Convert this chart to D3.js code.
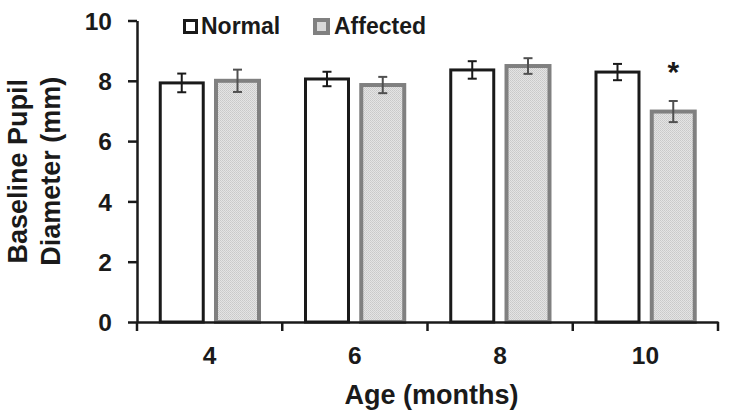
<!DOCTYPE html>
<html><head><meta charset="utf-8">
<script src="https://cdn.jsdelivr.net/npm/d3@7"></script>
<style>
html,body{margin:0;padding:0;background:#fff;}
svg text{font-family:Arial,"Liberation Sans",sans-serif;font-weight:bold;fill:#1a1a1a;}
</style></head>
<body><svg id="c" width="729" height="420"></svg>
<script>
const categories = ["4","6","8","10"];
const seriesNames = ["Normal","Affected"];
const normalValues = [7.93, 8.06, 8.36, 8.29];
const normalErrors = [0.31, 0.24, 0.29, 0.27];
const affectedValues = [8.0, 7.86, 8.49, 6.98];
const affectedErrors = [0.37, 0.27, 0.26, 0.35];
const significant = [false, false, false, true];
const yTicks = [0,2,4,6,8,10];
const yTitleLines = ["Baseline Pupil","Diameter (mm)"];
const xTitle = "Age (months)";

(function(){
const svg = d3.select("#c");
const defs = svg.append("defs");
const pat = defs.append("pattern").attr("id","dots").attr("patternUnits","userSpaceOnUse")
  .attr("width",2).attr("height",2);
pat.append("rect").attr("width",2).attr("height",2).attr("fill","#e4e4e4");
pat.append("rect").attr("width",1).attr("height",1).attr("fill","#c9c9c9");
pat.append("rect").attr("x",1).attr("y",1).attr("width",1).attr("height",1).attr("fill","#cfcfcf");

const pLeft = 137, pRight = 718, pTop = 20.5, pBottom = 322;
const x0 = d3.scaleBand().domain(categories).range([pLeft, pRight]).padding(0);
const x1 = d3.scaleBand().domain(seriesNames).range([0, x0.bandwidth()]).paddingInner(0.229).paddingOuter(0.417);
const y = d3.scaleLinear().domain([0,10]).range([pBottom, pTop]);

const styles = {
  Normal: {stroke:"#1a1a1a", sw:3, fill:"#ffffff", err:"#1a1a1a"},
  Affected: {stroke:"#808080", sw:4, fill:"url(#dots)", err:"#505050"}
};
const data = categories.map((c,i)=>({c, items:[
  {s:"Normal", v:normalValues[i], e:normalErrors[i]},
  {s:"Affected", v:affectedValues[i], e:affectedErrors[i]}
]}));

const g = svg.append("g");
data.forEach(d=>{
  d.items.forEach(it=>{
    const st = styles[it.s];
    const bx = x0(d.c) + x1(it.s);
    g.append("rect").attr("x", bx).attr("y", y(it.v))
      .attr("width", x1.bandwidth()).attr("height", y(0)-y(it.v))
      .attr("fill", st.fill).attr("stroke", st.stroke).attr("stroke-width", st.sw);
    const cx = bx + x1.bandwidth()/2;
    g.append("line").attr("x1",cx).attr("x2",cx).attr("y1",y(it.v+it.e)).attr("y2",y(it.v-it.e))
      .attr("stroke",st.err).attr("stroke-width",2);
    [it.v+it.e, it.v-it.e].forEach(val=>{
      g.append("line").attr("x1",cx-4.5).attr("x2",cx+4.5).attr("y1",y(val)).attr("y2",y(val))
        .attr("stroke",st.err).attr("stroke-width",2);
    });
  });
});
categories.forEach((c,i)=>{
  if(!significant[i]) return;
  const cx = x0(c) + x1("Affected") + x1.bandwidth()/2;
  svg.append("text").attr("x",cx).attr("y", y(affectedValues[i]+affectedErrors[i]) - 19.5)
    .attr("text-anchor","middle").attr("font-size",30).text("*");
});

const yAxis = svg.append("g").attr("transform",`translate(${pLeft},0)`)
  .call(d3.axisLeft(y).tickValues(yTicks).tickFormat(d3.format("d")).tickSize(9).tickSizeOuter(0).tickPadding(16));
yAxis.select(".domain").attr("stroke","#1a1a1a").attr("stroke-width",2.5);
yAxis.selectAll(".tick line").attr("stroke","#1a1a1a").attr("stroke-width",2.5);
yAxis.selectAll("text").attr("font-size",24.5).attr("fill","#1a1a1a").attr("dy","0.36em");

const xAxis = svg.append("g").attr("transform",`translate(0,${pBottom})`)
  .call(d3.axisBottom(x0).tickSize(0).tickSizeOuter(0));
xAxis.select(".domain").attr("stroke","#1a1a1a").attr("stroke-width",2.5);
xAxis.selectAll("text").attr("font-size",24.5).attr("fill","#1a1a1a").attr("dy",null).attr("y",41.5);
const bounds = categories.map(c=>x0(c)).concat([x0(categories[categories.length-1])+x0.bandwidth()]);
xAxis.selectAll(".bnd").data(bounds).enter().append("line").attr("class","bnd")
  .attr("x1",d=>d).attr("x2",d=>d).attr("y1",0).attr("y2",9)
  .attr("stroke","#1a1a1a").attr("stroke-width",2.5);

svg.append("text").attr("x",(pLeft+pRight)/2 + 4).attr("y",403.5).attr("text-anchor","middle")
  .attr("font-size",27).text(xTitle);
const yc = (pTop+pBottom)/2;
yTitleLines.forEach((t,i)=>{
  svg.append("text").attr("transform",`translate(${27+i*33},${yc}) rotate(-90)`)
    .attr("text-anchor","middle").attr("font-size",27).text(t);
});

const leg = svg.append("g");
leg.append("rect").attr("x",184.5).attr("y",20.5).attr("width",12).attr("height",12)
  .attr("fill","#fff").attr("stroke","#1a1a1a").attr("stroke-width",3);
leg.append("text").attr("x",201).attr("y",33.5).attr("font-size",23).text(seriesNames[0]);
leg.append("rect").attr("x",315).attr("y",20).attr("width",13).attr("height",13)
  .attr("fill","#d8d8d8").attr("stroke","#808080").attr("stroke-width",4);
leg.append("text").attr("x",334).attr("y",33.5).attr("font-size",23).text(seriesNames[1]);
})();
</script></body></html>
